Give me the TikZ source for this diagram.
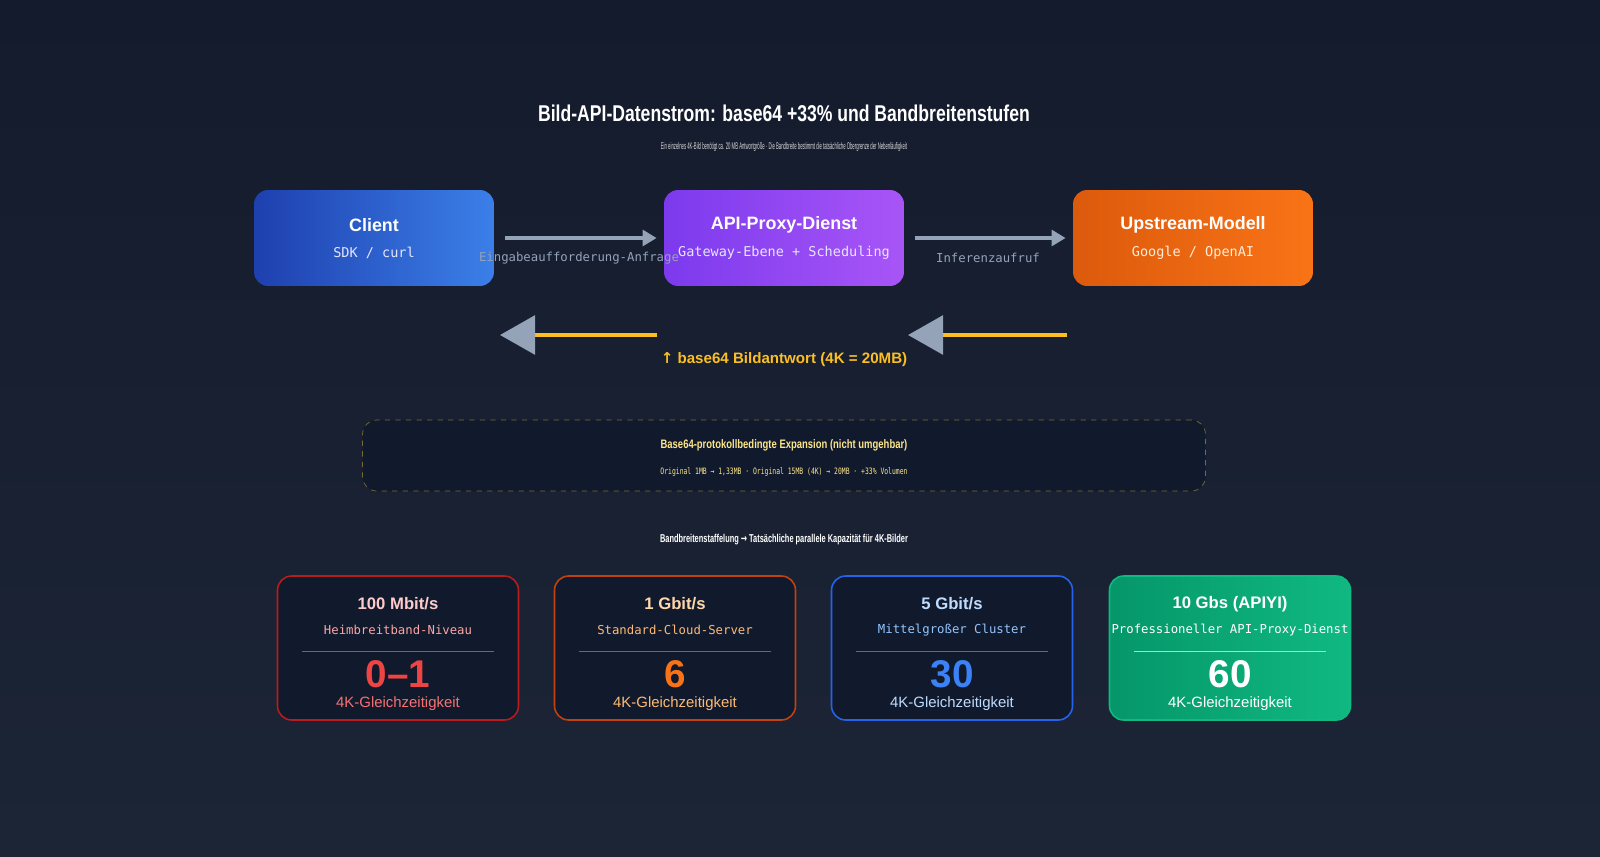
\documentclass[tikz,border=0pt]{standalone}
\usepackage{fontspec}
\usepackage{graphicx}
\setmainfont{Liberation Sans}
\setsansfont{Liberation Sans}
\setmonofont{DejaVu Sans Mono}
\newfontfamily\symfont{DejaVu Sans}
\usetikzlibrary{positioning,arrows.meta,shadings}
\newcommand{\cond}[2]{\scalebox{#1}[1]{#2}}
\definecolor{bgtop}{HTML}{141B2D}
\definecolor{bgbot}{HTML}{1C2536}
\definecolor{cardbg}{HTML}{111A2C}
\definecolor{arrgray}{HTML}{94A3B8}
\definecolor{gold}{HTML}{FBBF24}
\definecolor{paleyel}{HTML}{FDE68A}
\definecolor{dashcol}{HTML}{7A6A35}
\definecolor{cblueA}{HTML}{1E40AF}\definecolor{cblueB}{HTML}{3B7FE8}
\definecolor{cpurA}{HTML}{7C3AED}\definecolor{cpurB}{HTML}{A855F7}
\definecolor{corA}{HTML}{DC5A0C}\definecolor{corB}{HTML}{F97316}
\definecolor{cgrA}{HTML}{059669}\definecolor{cgrB}{HTML}{10B981}
\definecolor{rBd}{HTML}{B91C1C}\definecolor{rTi}{HTML}{FECACA}\definecolor{rSu}{HTML}{FCA5A5}\definecolor{rNu}{HTML}{EF4444}\definecolor{rLa}{HTML}{F87171}
\definecolor{oBd}{HTML}{C2410C}\definecolor{oTi}{HTML}{FED7AA}\definecolor{oSu}{HTML}{FDBA74}\definecolor{oNu}{HTML}{F97316}\definecolor{oLa}{HTML}{FDBA74}
\definecolor{bBd}{HTML}{2563EB}\definecolor{bTi}{HTML}{BFDBFE}\definecolor{bSu}{HTML}{93C5FD}\definecolor{bNu}{HTML}{3B82F6}\definecolor{bLa}{HTML}{BFDBFE}
\begin{document}
\begin{tikzpicture}[x=0.02cm,y=-0.02cm]
    \tikzset{
        box/.style={rounded corners=8pt, minimum width=4.8cm, minimum height=1.92cm},
        card/.style={rounded corners=8pt, minimum width=4.82cm, minimum height=2.88cm, line width=0.9pt},
        fwd/.style={draw=arrgray, line width=2pt, -{Triangle[length=8pt,width=9pt]}},
        back/.style={draw=gold, line width=2.5pt, -{Triangle[length=20pt,width=22pt,color=arrgray]}},
        btitle/.style={text=white, font=\bfseries\fontsize{10.2}{12}\selectfont},
        bsub/.style={font=\ttfamily\fontsize{7.7}{9}\selectfont},
        lbl/.style={text=arrgray, font=\ttfamily\fontsize{7}{9}\selectfont}
        }
    % background
    \shade[top color=bgtop, bottom color=bgbot] (0,0) rectangle (1600,856);
    \useasboundingbox (0,0) rectangle (1600,856);

    % title
    \node (title) [text=white, font=\bfseries\fontsize{13}{16}\selectfont] at (784,113) {\cond{0.77}{Bild-API-Datenstrom: base64 +33\% und Bandbreitenstufen}};
    \node (subtitle) [text=white!85!black, font=\fontsize{5.5}{6}\selectfont] at (784,147) {\cond{0.44}{Ein einzelnes 4K-Bild benötigt ca. 20 MB Antwortgröße · Die Bandbreite bestimmt die tatsächliche Obergrenze der Nebenläufigkeit}};

    % flow boxes
    \node (client) [box, left color=cblueA, right color=cblueB] at (374,238) {};
    \node (proxy) [box, left color=cpurA, right color=cpurB] at (784,238) {};
    \node (upstream) [box, left color=corA, right color=corB] at (1193,238) {};
    \node [btitle] at (374,225) {Client};
    \node [bsub, text=white!90!blue] at (374,253) {SDK / curl};
    \node [btitle] at (784,225) {API-Proxy-Dienst};
    \node [bsub, text=white!90!blue] at (784,253) {Gateway-Ebene + Scheduling};
    \node [btitle] at (1193,225) {Upstream-Modell};
    \node [bsub, text=white!85!orange] at (1193,253) {Google / OpenAI};

    % requests
    \draw[fwd] ([xshift=6pt]client.east) -- ([xshift=-4pt]proxy.west);
    \draw[fwd] ([xshift=6pt]proxy.east) -- ([xshift=-4pt]upstream.west);
    \node (reqlbl) [lbl] at (579,258) {Eingabeaufforderung-Anfrage};
    \node (inflbl) [lbl] at (988,258) {Inferenzaufruf};

    % responses
    \coordinate (r1s) at (657,335); \coordinate (r1e) at (500,335);
    \coordinate (r2s) at (1067,335); \coordinate (r2e) at (908,335);
    \draw[back] (r1s) -- (r1e);
    \draw[back] (r2s) -- (r2e);
    \node (resplbl) [text=gold, font=\bfseries\fontsize{8.6}{10}\selectfont] at (784,360) {{\symfont ↑} base64 Bildantwort (4K = 20MB)};

    % expansion note
    \node (note) [draw=dashcol, dashed, rounded corners=8pt, fill=cardbg, minimum width=16.86cm, minimum height=1.42cm] at (784,455.5) {};
    \node [text=paleyel, font=\bfseries\fontsize{7}{9}\selectfont] at (784,445) {\cond{0.77}{Base64-protokollbedingte Expansion (nicht umgehbar)}};
    \node [text=paleyel, font=\ttfamily\fontsize{5}{6}\selectfont] at (784,472) {\cond{0.73}{Original 1MB → 1,33MB · Original 15MB (4K) → 20MB · +33\% Volumen}};

    \node (tierhead) [text=white, font=\bfseries\fontsize{6.5}{8}\selectfont] at (784,540) {\cond{0.65}{Bandbreitenstaffelung {\symfont →} Tatsächliche parallele Kapazität für 4K-Bilder}};

    % tiers
    \foreach \cx/\p/\ti/\su/\nu in {398/r/100 Mbit\slash s/Heimbreitband-Niveau/0--1, 675/o/1 Gbit\slash s/Standard-Cloud-Server/6, 952/b/5 Gbit\slash s/Mittelgroßer Cluster/30}{
        \node (tier\p) [card, draw=\p Bd, fill=cardbg] at (\cx,648) {};
        \node [text=\p Ti, font=\bfseries\fontsize{9.5}{11}\selectfont] at (\cx,604) {\ti};
        \node [text=\p Su, font=\ttfamily\fontsize{7}{9}\selectfont] at (\cx,630) {\su};
        \draw[white!35!cardbg] (\cx-96,651) -- (\cx+96,651);
        \node [text=\p Nu, font=\bfseries\fontsize{22}{24}\selectfont] at (\cx,674) {\nu};
        \node [text=\p La, font=\fontsize{8.5}{10}\selectfont] at (\cx,704) {4K-Gleichzeitigkeit};
    }
    \node (tierg) [card, draw=cgrB, left color=cgrA, right color=cgrB] at (1230,648) {};
    \node [text=white, font=\bfseries\fontsize{9.5}{11}\selectfont] at (1230,604) {10 Gbs (APIYI)};
    \node [text=white, font=\ttfamily\fontsize{7}{9}\selectfont] at (1230,630) {Professioneller API-Proxy-Dienst};
    \draw[white!60!cgrB] (1134,651) -- (1326,651);
    \node [text=white, font=\bfseries\fontsize{22}{24}\selectfont] at (1230,674) {60};
    \node [text=white, font=\fontsize{8.5}{10}\selectfont] at (1230,704) {4K-Gleichzeitigkeit};
\end{tikzpicture}
\end{document}
